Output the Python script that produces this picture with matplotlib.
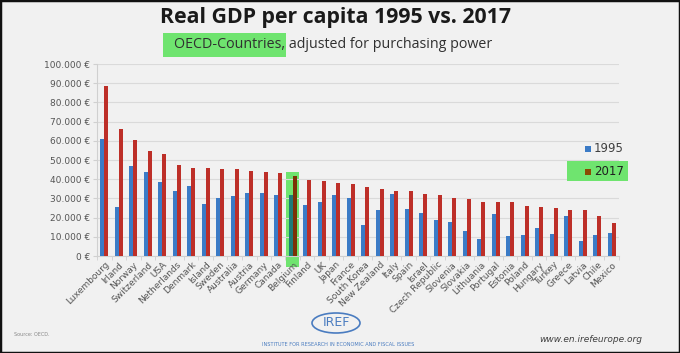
import matplotlib
matplotlib.use('Agg')
import matplotlib.pyplot as plt
from matplotlib.patches import Rectangle, Ellipse
from matplotlib.ticker import FuncFormatter
import numpy as np

countries = ['Luxembourg', 'Irland', 'Norway', 'Switzerland', 'USA', 'Netherlands', 'Denmark',
             'Island', 'Sweden', 'Australia', 'Austria', 'Germany', 'Canada', 'Belgium',
             'Finland', 'UK', 'Japan', 'France', 'South Korea', 'New Zealand', 'Italy', 'Spain',
             'Israel', 'Czech Republic', 'Slovenia', 'Slovakia', 'Lithuania', 'Portugal',
             'Estonia', 'Poland', 'Hungary', 'Turkey', 'Greece', 'Latvia', 'Chile', 'Mexico']
gdp_1995 = [60700, 25600, 46800, 43700, 38600, 33900, 36500, 27300, 30300, 31300, 32900, 32900,
            31800, 31800, 26600, 28200, 31800, 30300, 16300, 24200, 32300, 24500, 22400, 18800,
            17700, 13200, 9000, 21900, 10600, 11100, 14800, 11700, 21000, 8000, 11100, 12200]
gdp_2017 = [88700, 66400, 60300, 54600, 52900, 47300, 45900, 45900, 45200, 45200, 44200, 43700,
            43100, 41700, 39500, 39000, 37900, 37400, 36000, 34800, 33700, 33700, 32300, 31700,
            30300, 29700, 28200, 28200, 28200, 26100, 25600, 25000, 24000, 24000, 21000, 17400]
highlight = 'Belgium'

W, H = 680, 353
BG = '#f1f1f1'
BLUE = '#3b7bc6'
RED = '#bd2f28'
GREEN = '#6fe46f'

fig = plt.figure(figsize=(W / 100, H / 100), dpi=100, facecolor=BG)


def fx(px):
    return px / W


def fy(py):
    return 1 - py / H


ax = fig.add_axes([fx(97), fy(256), fx(619) - fx(97), fy(64) - fy(256)])
ax.set_facecolor(BG)

x = np.arange(len(countries))
bw = 0.29
hi = countries.index(highlight)
blue_cols = [BLUE] * len(countries)
red_cols = [RED] * len(countries)
blue_cols[hi] = '#1d7b78'
red_cols[hi] = '#7c3206'

# green marker box behind the highlighted country
ax.add_patch(Rectangle((hi - 0.45, -5700), 0.9, 49500, facecolor=GREEN, edgecolor='none',
                       clip_on=False, zorder=1))
ax.bar(x - bw / 2, gdp_1995, bw, color=blue_cols, zorder=3)
ax.bar(x + bw / 2, gdp_2017, bw, color=red_cols, zorder=3)

ax.set_xlim(-0.5, len(countries) - 0.5)
ax.set_ylim(0, 100000)
ax.set_yticks(range(0, 100001, 10000))
ax.yaxis.set_major_formatter(FuncFormatter(lambda v, p: f'{int(v):,} €'.replace(',', '.')))
ax.grid(axis='y', color='#dadada', linewidth=0.8, zorder=0)
for s in ['top', 'right']:
    ax.spines[s].set_visible(False)
ax.spines['left'].set_color('#d0d0d0')
ax.spines['bottom'].set_color('#d0d0d0')
ax.tick_params(axis='y', labelsize=6.5, labelcolor='#555555', color='#d0d0d0', length=3, pad=2)
ax.set_xticks(x)
ax.set_xticklabels(countries, rotation=45, ha='right', rotation_mode='anchor',
                   fontsize=6.5, color='#555555')
ax.tick_params(axis='x', length=0, pad=3)
ax.set_xticks(np.arange(-0.5, len(countries), 1), minor=True)
ax.tick_params(axis='x', which='minor', length=3, color='#d0d0d0')

# legend, built by hand
fig.add_artist(Rectangle((fx(567), fy(181)), fx(628) - fx(567), fy(161) - fy(181),
                         facecolor=GREEN, edgecolor='none', transform=fig.transFigure))
fig.add_artist(Rectangle((fx(585), fy(152)), fx(5.5), fy(0) - fy(6),
                         facecolor=BLUE, transform=fig.transFigure))
fig.text(fx(594), fy(148.5), '1995', fontsize=8.5, color='#404040', va='center')
fig.add_artist(Rectangle((fx(585), fy(175)), fx(5.5), fy(0) - fy(6),
                         facecolor='#8a4b02', transform=fig.transFigure))
fig.text(fx(594), fy(171.5), '2017', fontsize=8.5, color='#202020', va='center')

# titles
fig.text(fx(336), fy(17), 'Real GDP per capita 1995 vs. 2017', fontsize=15.3, fontweight='bold',
         ha='center', va='center', color='#1a1a1a', family='Open Sans')
fig.add_artist(Rectangle((fx(163), fy(57)), fx(286) - fx(163), fy(33) - fy(57),
                         facecolor=GREEN, edgecolor='none', transform=fig.transFigure))
fig.text(fx(174), fy(45), 'OECD-Countries, adjusted for purchasing power', fontsize=10.3,
         ha='left', va='center', color='#303030', family='Open Sans')

# footer
fig.text(fx(14), fy(334), 'Source: OECD.', fontsize=3.5, color='#888888', va='center')
fig.add_artist(Ellipse((fx(336), fy(323)), fx(48), fy(0) - fy(20), fill=False,
                       edgecolor='#4a7cc0', linewidth=1.2, transform=fig.transFigure))
fig.text(fx(336), fy(323), 'IREF', fontsize=9, color='#4a7cc0', ha='center', va='center')
fig.text(fx(338), fy(344), 'INSTITUTE FOR RESEARCH IN ECONOMIC AND FISCAL ISSUES', fontsize=3.6,
         color='#4a7cc0', ha='center', va='center')
fig.text(fx(591), fy(339), 'www.en.irefeurope.org', fontsize=6.5, style='italic',
         color='#404040', ha='center', va='center')

# slide frame
fig.add_artist(Rectangle((0, 0), 1, 1, fill=False, edgecolor='#111111', linewidth=2.5,
                         transform=fig.transFigure))

plt.savefig('out.png', dpi=100, facecolor=BG)
